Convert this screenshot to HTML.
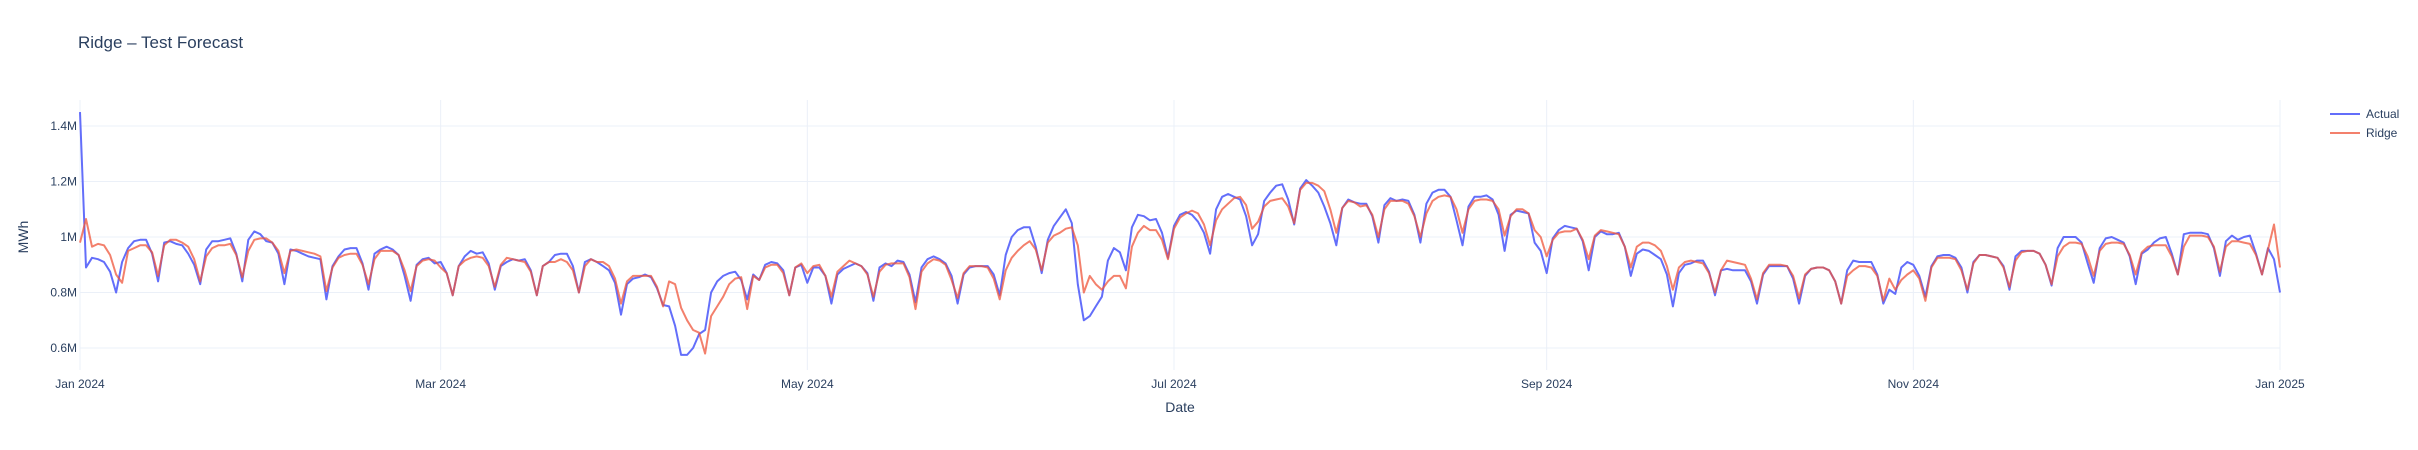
<!DOCTYPE html>
<html><head><meta charset="utf-8">
<style>
html,body{margin:0;padding:0;background:#fff;}
svg{display:block;font-family:"Liberation Sans",Arial,sans-serif;}
</style></head>
<body>
<svg id="chart" width="2418" height="450" xmlns="http://www.w3.org/2000/svg">
<text x="78" y="48" font-size="17" fill="#2a3f5f">Ridge – Test Forecast</text>
<g id="grid"></g>
<g id="yticks"></g>
<g id="xticks"></g>
<g id="series"></g>
<text x="0" y="0" font-size="14" fill="#2a3f5f" text-anchor="middle" transform="translate(28,237) rotate(-90)">MWh</text>
<text x="1180" y="412" font-size="14" fill="#2a3f5f" text-anchor="middle">Date</text>
<g>
<g>
<line x1="2330" y1="114" x2="2360" y2="114" stroke="#636efa" stroke-width="2"/>
<text x="2366" y="118" font-size="12" fill="#2a3f5f">Actual</text></g>
<g>
<line x1="2330" y1="133" x2="2360" y2="133" stroke="#EF553B" stroke-opacity="0.75" stroke-width="2"/>
<text x="2366" y="137" font-size="12" fill="#2a3f5f">Ridge</text></g>
</g>
</svg>
<script>
const yTickValues=[0.6e6,0.8e6,1.0e6,1.2e6,1.4e6];
const yTickLabels=["0.6M","0.8M","1M","1.2M","1.4M"];
const xTickDays=[0,60,121,182,244,305,366];
const xTickLabels=["Jan 2024","Mar 2024","May 2024","Jul 2024","Sep 2024","Nov 2024","Jan 2025"];
const actual=[1.45,0.89,0.925,0.92,0.91,0.875,0.80,0.91,0.96,0.985,0.99,0.99,0.94,0.84,0.98,0.985,0.975,0.97,0.94,0.90,0.83,0.955,0.985,0.985,0.99,0.995,0.94,0.84,0.99,1.02,1.01,0.985,0.98,0.94,0.83,0.955,0.95,0.94,0.93,0.925,0.92,0.775,0.895,0.93,0.955,0.96,0.96,0.905,0.81,0.94,0.955,0.965,0.955,0.935,0.86,0.77,0.90,0.92,0.925,0.905,0.91,
0.87,0.79,0.895,0.93,0.95,0.94,0.945,0.905,0.81,0.895,0.91,0.92,0.915,0.92,0.88,0.79,0.895,0.91,0.935,0.94,0.94,0.895,0.80,0.91,0.92,0.91,0.895,0.88,0.835,0.72,0.83,0.85,0.855,0.865,0.855,0.815,0.755,0.75,0.68,0.575,0.575,0.60,0.65,0.665,0.80,0.84,0.86,0.87,0.875,0.845,0.775,0.865,0.845,0.90,0.91,0.905,0.88,0.79,0.89,0.90,
0.835,0.89,0.89,0.86,0.76,0.865,0.885,0.895,0.905,0.895,0.87,0.77,0.89,0.905,0.895,0.915,0.91,0.865,0.765,0.89,0.92,0.93,0.92,0.905,0.86,0.76,0.865,0.89,0.895,0.895,0.895,0.865,0.79,0.935,1.0,1.025,1.035,1.035,0.965,0.87,0.99,1.04,1.07,1.10,1.05,0.83,0.70,0.715,0.75,0.785,0.915,0.96,0.945,0.88,1.035,1.08,1.075,1.06,1.065,1.015,0.925,
1.04,1.08,1.09,1.08,1.055,1.015,0.94,1.10,1.145,1.155,1.145,1.135,1.075,0.97,1.01,1.13,1.16,1.185,1.19,1.135,1.045,1.175,1.205,1.185,1.16,1.11,1.05,0.97,1.105,1.135,1.125,1.12,1.12,1.075,0.98,1.115,1.14,1.13,1.135,1.13,1.08,0.98,1.12,1.16,1.17,1.17,1.145,1.06,0.97,1.11,1.145,1.145,1.15,1.135,1.08,0.95,1.08,1.095,1.09,1.085,0.98,
0.95,0.87,0.995,1.025,1.04,1.035,1.03,0.985,0.88,1.0,1.02,1.01,1.01,1.015,0.965,0.86,0.94,0.955,0.95,0.935,0.92,0.865,0.75,0.87,0.90,0.905,0.915,0.915,0.875,0.79,0.88,0.885,0.88,0.88,0.88,0.84,0.76,0.865,0.895,0.895,0.895,0.895,0.85,0.76,0.86,0.885,0.89,0.89,0.88,0.84,0.76,0.88,0.915,0.91,0.91,0.91,0.865,0.76,0.81,0.795,0.89,
0.91,0.90,0.86,0.785,0.895,0.93,0.935,0.935,0.925,0.89,0.80,0.91,0.935,0.935,0.93,0.925,0.895,0.81,0.93,0.95,0.95,0.95,0.94,0.90,0.825,0.96,1.0,1.0,1.0,0.98,0.905,0.835,0.96,0.995,1.0,0.99,0.98,0.93,0.83,0.94,0.955,0.98,0.995,1.0,0.94,0.865,1.01,1.015,1.015,1.015,1.01,0.96,0.86,0.985,1.005,0.99,1.0,1.005,0.94,0.865,0.96,0.92,0.80];
const ridge=[0.98,1.065,0.965,0.975,0.97,0.935,0.865,0.835,0.95,0.96,0.97,0.97,0.945,0.86,0.97,0.99,0.99,0.98,0.965,0.92,0.84,0.93,0.96,0.97,0.97,0.975,0.935,0.855,0.95,0.99,0.995,0.995,0.98,0.95,0.87,0.95,0.955,0.95,0.945,0.94,0.93,0.805,0.89,0.925,0.935,0.94,0.94,0.90,0.83,0.92,0.95,0.95,0.95,0.935,0.88,0.805,0.895,0.915,0.92,0.915,0.89,
0.87,0.79,0.895,0.915,0.925,0.93,0.925,0.895,0.82,0.90,0.925,0.92,0.915,0.91,0.875,0.79,0.895,0.91,0.91,0.92,0.91,0.88,0.80,0.895,0.92,0.91,0.91,0.895,0.85,0.76,0.84,0.86,0.86,0.86,0.86,0.82,0.75,0.84,0.83,0.745,0.70,0.665,0.655,0.58,0.715,0.75,0.785,0.83,0.85,0.855,0.74,0.86,0.845,0.89,0.90,0.90,0.87,0.79,0.89,0.905,
0.87,0.895,0.90,0.86,0.785,0.875,0.895,0.915,0.905,0.895,0.865,0.785,0.875,0.90,0.905,0.905,0.905,0.855,0.74,0.875,0.905,0.92,0.915,0.90,0.845,0.78,0.87,0.895,0.895,0.895,0.89,0.85,0.775,0.88,0.925,0.95,0.97,0.985,0.955,0.88,0.98,1.005,1.015,1.03,1.035,0.97,0.80,0.86,0.83,0.81,0.84,0.86,0.86,0.815,0.965,1.015,1.04,1.025,1.025,0.99,0.92,
1.03,1.07,1.085,1.095,1.085,1.045,0.97,1.06,1.10,1.12,1.14,1.145,1.115,1.03,1.055,1.11,1.13,1.135,1.14,1.11,1.05,1.17,1.195,1.195,1.185,1.165,1.10,1.015,1.105,1.13,1.125,1.11,1.115,1.08,1.0,1.10,1.13,1.13,1.13,1.12,1.075,1.0,1.085,1.13,1.145,1.15,1.145,1.10,1.015,1.10,1.13,1.135,1.135,1.13,1.10,1.005,1.075,1.10,1.10,1.085,1.025,
1.0,0.93,0.99,1.015,1.02,1.02,1.03,0.99,0.92,1.005,1.025,1.02,1.015,1.01,0.965,0.89,0.965,0.98,0.98,0.97,0.95,0.895,0.81,0.89,0.91,0.915,0.91,0.905,0.87,0.80,0.88,0.915,0.91,0.905,0.90,0.85,0.775,0.87,0.90,0.90,0.90,0.895,0.86,0.78,0.865,0.885,0.89,0.89,0.88,0.84,0.76,0.86,0.88,0.895,0.895,0.89,0.86,0.77,0.85,0.81,0.845,
0.865,0.88,0.85,0.77,0.89,0.925,0.925,0.925,0.92,0.88,0.81,0.905,0.935,0.935,0.93,0.925,0.89,0.82,0.915,0.945,0.95,0.95,0.94,0.90,0.83,0.93,0.965,0.98,0.98,0.975,0.93,0.86,0.95,0.975,0.98,0.98,0.975,0.935,0.865,0.945,0.965,0.97,0.97,0.97,0.93,0.865,0.965,1.005,1.005,1.005,1.0,0.965,0.875,0.965,0.985,0.985,0.98,0.975,0.935,0.865,0.955,1.045,0.89];

const NS="http://www.w3.org/2000/svg";
const X0=80,X1=2280,DAYS=366;
function xScale(d){return X0+(X1-X0)*d/DAYS;}
function yScale(v){return 237-(v-1.0e6)/0.2e6*55.5;}
const grid=document.getElementById('grid');
const yt=document.getElementById('yticks');
const xt=document.getElementById('xticks');
const ser=document.getElementById('series');
yTickValues.forEach((v,i)=>{
  const y=yScale(v);
  const l=document.createElementNS(NS,'line');
  
  
  l.setAttribute('x1',X0);l.setAttribute('x2',X1);l.setAttribute('y1',y);l.setAttribute('y2',y);
  l.setAttribute('stroke','#ebf0f8');l.setAttribute('stroke-width','1');
  grid.appendChild(l);
  const t=document.createElementNS(NS,'text');
  
  
  t.setAttribute('x',X0-3);t.setAttribute('y',y+4);t.setAttribute('text-anchor','end');
  t.setAttribute('font-size','12');t.setAttribute('fill','#2a3f5f');
  t.textContent=yTickLabels[i];
  yt.appendChild(t);
});
xTickDays.forEach((d,i)=>{
  const x=xScale(d);
  const l=document.createElementNS(NS,'line');
  
  
  l.setAttribute('x1',x);l.setAttribute('x2',x);l.setAttribute('y1',100);l.setAttribute('y2',370);
  l.setAttribute('stroke','#ebf0f8');l.setAttribute('stroke-width','1');
  grid.appendChild(l);
  const t=document.createElementNS(NS,'text');
  
  
  t.setAttribute('x',x);t.setAttribute('y',388);t.setAttribute('text-anchor','middle');
  t.setAttribute('font-size','12');t.setAttribute('fill','#2a3f5f');
  t.textContent=xTickLabels[i];
  xt.appendChild(t);
});
function drawLine(arr,color,name,op){
  const pts=arr.map((v,i)=>xScale(i).toFixed(1)+','+yScale(v*1e6).toFixed(1)).join(' ');
  const p=document.createElementNS(NS,'polyline');
  
  
  p.setAttribute('points',pts);p.setAttribute('fill','none');
  p.setAttribute('stroke',color);p.setAttribute('stroke-width','2');
  p.setAttribute('stroke-opacity',op);
  p.setAttribute('stroke-linejoin','round');
  ser.appendChild(p);
}
drawLine(actual,'#636efa','actual-line','1');
drawLine(ridge,'#EF553B','ridge-line','0.75');
</script>
</body></html>
